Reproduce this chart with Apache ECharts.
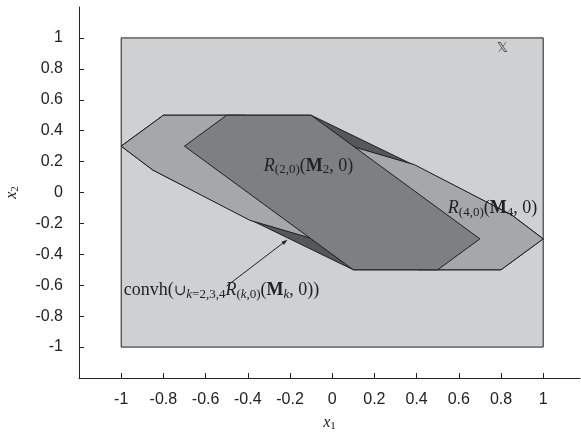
<!DOCTYPE html>
<html>
<head>
<meta charset="utf-8">
<script src="https://cdn.jsdelivr.net/npm/echarts@6/dist/echarts.min.js"></script>
<style>html,body{margin:0;padding:0;background:#fff}#c{width:581px;height:437px}</style>
</head>
<body>
<div id="c"></div>
<script>
// tick labels
const xTicks = [-1, -0.8, -0.6, -0.4, -0.2, 0, 0.2, 0.4, 0.6, 0.8, 1];
const yTicks = [-1, -0.8, -0.6, -0.4, -0.2, 0, 0.2, 0.4, 0.6, 0.8, 1];
// state constraint set X
const setX = [[-1, -1], [1, -1], [1, 1], [-1, 1]];
// convex hull of union
const convh = [[-0.8, 0.5], [-0.1, 0.5], [0.39, 0.175], [0.85, -0.145], [1, -0.3], [0.8, -0.5], [0.1, -0.5], [-0.39, -0.175], [-0.85, 0.145], [-1, 0.3]];
// R(4,0)(M4,0)
const R4 = [[-1, 0.3], [-0.8, 0.5], [-0.41, 0.5], [0.39, 0.18], [0.85, -0.145], [1, -0.3], [0.8, -0.5], [0.41, -0.5], [-0.39, -0.18], [-0.85, 0.145]];
// R(2,0)(M2,0)
const R2 = [[-0.7, 0.3], [-0.5, 0.5], [-0.1, 0.5], [0.7, -0.3], [0.5, -0.5], [0.1, -0.5]];
// annotations
const labelR2 = [-0.324, 0.17];
const labelR4 = [0.548, -0.105];
const labelConvh = [-0.988, -0.635];
const labelX = [0.806, 0.935];
const arrowLine = [[-0.50, -0.605], [-0.212, -0.305]];

const serif = 'Liberation Serif';
const LH = 20;
const FS = 18, SS = 13;
const richMath = {
  n: { fontFamily: serif, fontSize: FS, fill: '#222', lineHeight: LH, verticalAlign: 'middle' },
  i: { fontFamily: serif, fontSize: FS, fontStyle: 'italic', fill: '#222', lineHeight: LH, verticalAlign: 'middle' },
  b: { fontFamily: serif, fontSize: FS, fontWeight: 'bold', fill: '#222', lineHeight: LH, verticalAlign: 'middle' },
  s: { fontFamily: serif, fontSize: SS, fill: '#222', lineHeight: 11, verticalAlign: 'bottom' },
  si: { fontFamily: serif, fontSize: SS, fontStyle: 'italic', fill: '#222', lineHeight: 11, verticalAlign: 'bottom' },
  u: { fontFamily: 'DejaVu Serif', fontSize: 15, fill: '#222', lineHeight: LH, verticalAlign: 'middle' }
};

function polySeries(verts, fill, z) {
  return {
    type: 'custom', z: z, silent: true,
    data: verts,
    encode: { x: 0, y: 1 },
    renderItem: function (params, api) {
      if (params.dataIndex !== 0) return null;
      return {
        type: 'polygon',
        shape: { points: verts.map(function (v) { return api.coord(v); }) },
        style: { fill: fill, stroke: '#1e1e1e', lineWidth: 1 }
      };
    }
  };
}
function textSeries(pos, text, z, align) {
  return {
    type: 'custom', z: z, silent: true,
    data: [pos],
    encode: { x: 0, y: 1 },
    renderItem: function (params, api) {
      const p = api.coord([api.value(0), api.value(1)]);
      return {
        type: 'text', x: p[0], y: p[1],
        style: { text: text, rich: richMath, align: align || 'left', verticalAlign: 'middle' }
      };
    }
  };
}

const chart = echarts.init(document.getElementById('c'), null, { renderer: 'canvas' });
const axisCommon = {
  type: 'value',
  axisLine: { show: true, onZero: false, lineStyle: { color: '#222', width: 1 } },
  splitLine: { show: false },
  nameLocation: 'middle',
  nameTextStyle: { rich: {
    i: { fontFamily: serif, fontSize: 16, fontStyle: 'italic', color: '#222', lineHeight: 18, verticalAlign: 'middle' },
    s: { fontFamily: serif, fontSize: 11, color: '#222', lineHeight: 10, verticalAlign: 'bottom' }
  } }
};
chart.setOption({
  animation: false,
  backgroundColor: '#fff',
  grid: { left: 79, right: 1, top: 7, bottom: 59, containLabel: false, outerBoundsMode: 'none' },
  xAxis: Object.assign({}, axisCommon, {
    min: -1.2, max: 1.1744,
    axisTick: { inside: true, length: 5, customValues: xTicks, lineStyle: { color: '#222' } },
    axisLabel: { customValues: xTicks, fontSize: 16, color: '#222', margin: 14, fontFamily: 'Liberation Sans' },
    name: '{i|x}{s|1}', nameGap: 36
  }),
  yAxis: Object.assign({}, axisCommon, {
    min: -1.2, max: 1.2,
    axisTick: { inside: true, length: 5, customValues: yTicks, lineStyle: { color: '#222' } },
    axisLabel: { customValues: yTicks, fontSize: 16, color: '#222', margin: 16, fontFamily: 'Liberation Sans' },
    name: '{i|x}{s|2}', nameGap: 58, nameRotate: 90
  }),
  series: [
    polySeries(setX, '#cfd0d2', 1),
    polySeries(convh, '#56575a', 2),
    polySeries(R4, '#a6a7aa', 3),
    polySeries(R2, '#7e7f82', 4),
    textSeries(labelR2, '{i|R}{s|(2,0)}{n|(}{b|M}{s|2}{n|, 0)}', 5),
    textSeries(labelR4, '{i|R}{s|(4,0)}{n|(}{b|M}{s|4}{n|, 0)}', 5),
    textSeries(labelConvh, '{n|convh(}{u|∪}{si|k}{s|=2,3,4}{i|R}{s|(}{si|k}{s|,0)}{n|(}{b|M}{si|k}{n|, 0))}', 5),
    {
      type: 'custom', z: 5, silent: true,
      data: [labelX], encode: { x: 0, y: 1 },
      renderItem: function (params, api) {
        const p = api.coord([api.value(0), api.value(1)]);
        return { type: 'text', x: p[0], y: p[1], style: { text: '𝕏', fontFamily: 'DejaVu Sans', fontSize: 14, fill: '#444', align: 'center', verticalAlign: 'middle' } };
      }
    },
    {
      type: 'custom', z: 6, silent: true,
      data: arrowLine, encode: { x: 0, y: 1 },
      renderItem: function (params, api) {
        if (params.dataIndex !== 0) return null;
        const a = api.coord(arrowLine[0]), b = api.coord(arrowLine[1]);
        const dx = b[0] - a[0], dy = b[1] - a[1];
        const L = Math.sqrt(dx * dx + dy * dy), ux = dx / L, uy = dy / L;
        const hl = 6, hw = 2;
        const base = [b[0] - ux * hl, b[1] - uy * hl];
        return {
          type: 'group',
          children: [
            { type: 'line', shape: { x1: a[0], y1: a[1], x2: base[0], y2: base[1] }, style: { stroke: '#222', lineWidth: 1 } },
            { type: 'polygon', shape: { points: [b, [base[0] - uy * hw, base[1] + ux * hw], [base[0] + uy * hw, base[1] - ux * hw]] }, style: { fill: '#222' } }
          ]
        };
      }
    }
  ]
});
</script>
</body>
</html>
